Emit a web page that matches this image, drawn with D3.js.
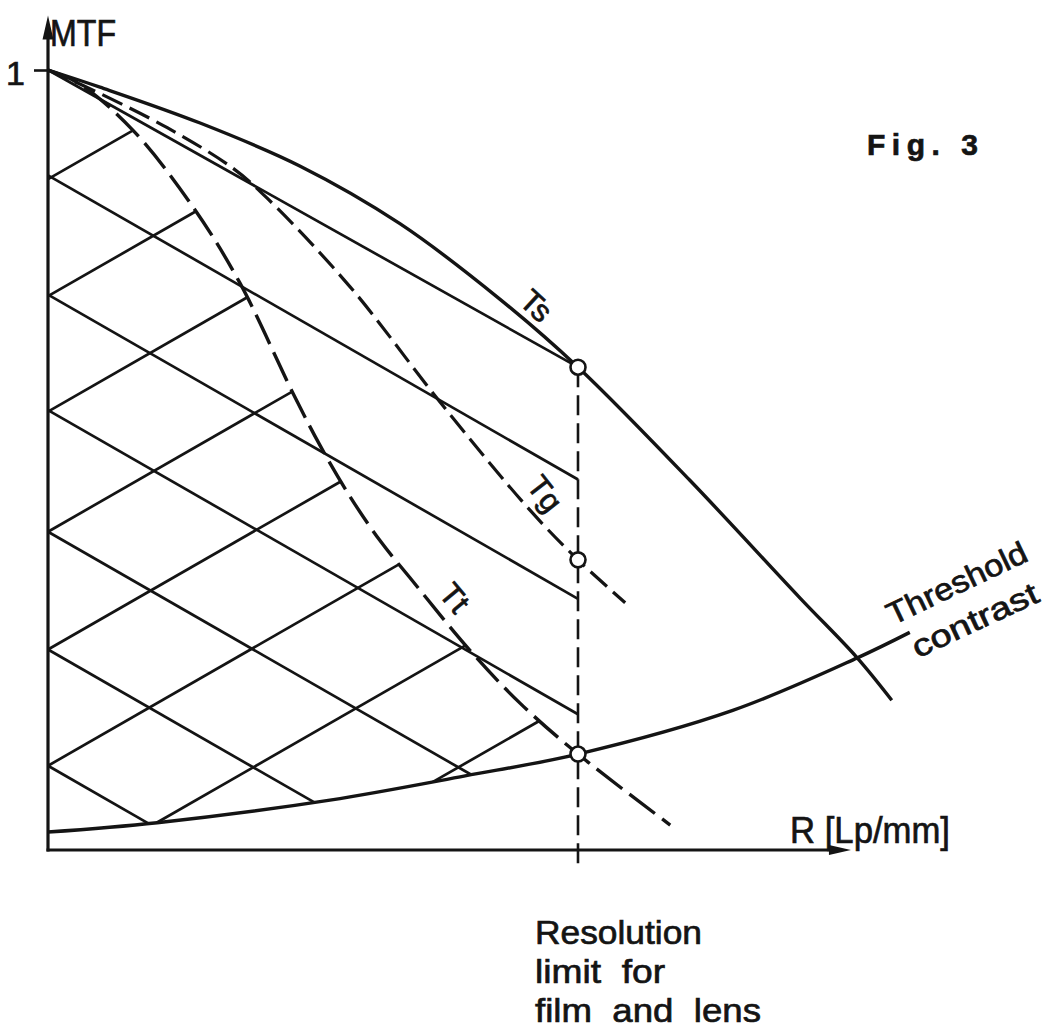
<!DOCTYPE html>
<html>
<head>
<meta charset="utf-8">
<script src="https://cdn.jsdelivr.net/npm/d3@7"></script>
<style>
  html, body { margin: 0; padding: 0; background: #fff; }
  svg { display: block; }
  text { font-family: "Liberation Sans Narrow", "Arial Narrow", "Liberation Sans", Arial, sans-serif;
         fill: #141414; stroke: #141414; stroke-width: 0.7px; white-space: pre; }
</style>
</head>
<body>
<svg id="chart" width="1057" height="1032"></svg>
<script>
// Spatial frequency R [Lp/mm] (resolution limit = 100) and MTF samples of each curve
const tsR = [0, 9.8, 28.7, 47.5, 66.4, 85.3, 100, 121.1, 141.9, 152.6, 159.2];
const tsM = [1, 0.978, 0.932, 0.877, 0.803, 0.706, 0.619, 0.474, 0.323, 0.247, 0.192];

const tgR = [0, 7.9, 22.5, 34.9, 41.3, 57.0, 74.0, 90.9, 100, 108.9];
const tgM = [1, 0.976, 0.926, 0.874, 0.836, 0.722, 0.574, 0.436, 0.372, 0.317];

const ttR = [0, 6, 16, 27.4, 36.2, 46.2, 51.3, 57, 62.6, 68.3, 79.6, 89.1, 100, 117.4];
const ttM = [1, 0.982, 0.923, 0.824, 0.727, 0.586, 0.519, 0.453, 0.397, 0.349, 0.256, 0.188, 0.123, 0.032];

// threshold contrast of the film
const thR = [0, 20.6, 53.2, 78.7, 100, 129.2, 152.6, 162.6];
const thM = [0.023, 0.035, 0.064, 0.095, 0.123, 0.179, 0.246, 0.279];

// resolution limit for film and lens
const limitR = 100;

// cross-hatching: MTF intercepts at R = 0 and common slope (MTF per Lp/mm)
const hatchDown = [0.865, 0.712, 0.564, 0.408, 0.257, 0.108];
const hatchUp = [0.86, 0.71, 0.562, 0.408, 0.257, 0.108, -0.045, -0.196];
const hatchSlope = 0.0039;

// axes
const axisMaxR = 151.5;
const axisMaxM = 1.07;
const yTicks = [1];
const yTickLabels = ["1"];

const svg = d3.select("#chart");
const x = d3.scaleLinear().domain([0, 100]).range([48, 578]);
const y = d3.scaleLinear().domain([0, 1]).range([850, 70]);

const zip = (a, b) => a.map((v, i) => [v, b[i]]);
const line = d3.line()
  .x(d => x(d[0]))
  .y(d => y(d[1]))
  .curve(d3.curveCatmullRom.alpha(0.5));

const ink = "#141414";

const hatchG = svg.append("g").attr("class", "hatch");
const curveG = svg.append("g").attr("class", "curves");

const ts = curveG.append("path").datum(zip(tsR, tsM))
  .attr("d", line).attr("fill", "none").attr("stroke", ink).attr("stroke-width", 3.4);

const tg = curveG.append("path").datum(zip(tgR, tgM))
  .attr("d", line).attr("fill", "none").attr("stroke", ink).attr("stroke-width", 3.2)
  .attr("stroke-dasharray", "22 8");

const tt = curveG.append("path").datum(zip(ttR, ttM))
  .attr("d", line).attr("fill", "none").attr("stroke", ink).attr("stroke-width", 3.4)
  .attr("stroke-dasharray", "32 9");

const th = curveG.append("path").datum(zip(thR, thM))
  .attr("d", line).attr("fill", "none").attr("stroke", ink).attr("stroke-width", 3.4);

// dense lookup of a drawn curve, MTF as a function of R
function sampler(path) {
  const node = path.node(), L = node.getTotalLength(), pts = [];
  for (let i = 0; i <= 800; i++) {
    const p = node.getPointAtLength(L * i / 800);
    pts.push([x.invert(p.x), y.invert(p.y)]);
  }
  pts.sort((a, b) => a[0] - b[0]);
  const bis = d3.bisector(d => d[0]).left;
  return R => {
    const i = bis(pts, R);
    if (i <= 0) return pts[0][1];
    if (i >= pts.length) return pts[pts.length - 1][1];
    const a = pts[i - 1], b = pts[i];
    const t = (R - a[0]) / ((b[0] - a[0]) || 1);
    return a[1] + t * (b[1] - a[1]);
  };
}
function root(f, lo, hi) {
  let flo = f(lo);
  for (let k = 0; k < 60; k++) {
    const m = (lo + hi) / 2, fm = f(m);
    if ((fm > 0) === (flo > 0)) { lo = m; flo = fm; } else { hi = m; }
  }
  return (lo + hi) / 2;
}

const thF = sampler(th);
const ttF = sampler(tt);

// descending hatch lines: from the MTF axis to the resolution limit or the threshold
const downSegs = hatchDown.map(d => {
  const f = R => (d - hatchSlope * R) - thF(R);
  const r1 = f(limitR) > 0 ? limitR : root(f, 0, limitR);
  return [[0, d], [r1, d - hatchSlope * r1]];
});
// ascending hatch lines: from the MTF axis or the threshold up to Tt
const upSegs = hatchUp.map(a => {
  const fTh = R => (a + hatchSlope * R) - thF(R);
  const r0 = fTh(0) >= 0 ? 0 : root(fTh, 0, limitR);
  const fTt = R => (a + hatchSlope * R) - ttF(R);
  const r1 = root(fTt, r0, limitR);
  return [[r0, a + hatchSlope * r0], [r1, a + hatchSlope * r1]];
});

const segLine = d3.line().x(d => x(d[0])).y(d => y(d[1]));
hatchG.selectAll("path.seg").data(downSegs.concat(upSegs)).join("path")
  .attr("class", "seg")
  .attr("d", segLine).attr("fill", "none").attr("stroke", ink).attr("stroke-width", 2.7);

// chord from MTF = 1 to Ts at the resolution limit
const tsAtLimit = tsM[tsR.indexOf(limitR)];
const tgAtLimit = tgM[tgR.indexOf(limitR)];
const thAtLimit = thM[thR.indexOf(limitR)];
hatchG.append("path").datum([[0, tsM[0]], [limitR, tsAtLimit]])
  .attr("d", segLine).attr("fill", "none").attr("stroke", ink).attr("stroke-width", 2.7);

// resolution limit marker
svg.append("line")
  .attr("x1", x(limitR)).attr("x2", x(limitR))
  .attr("y1", y(tsAtLimit)).attr("y2", y(0) + 14)
  .attr("stroke", ink).attr("stroke-width", 2.6).attr("stroke-dasharray", "20 8");

// axes with arrowheads
const ax = svg.append("g").attr("class", "axes");
const x0 = x(0), y0 = y(0), xEnd = x(axisMaxR), yEnd = y(axisMaxM);
ax.append("line").attr("x1", x0).attr("y1", y0 + 1.5).attr("x2", x0).attr("y2", yEnd + 10)
  .attr("stroke", ink).attr("stroke-width", 3.2);
ax.append("line").attr("x1", x0 - 1.5).attr("y1", y0).attr("x2", xEnd - 12).attr("y2", y0)
  .attr("stroke", ink).attr("stroke-width", 3);
ax.append("path")
  .attr("d", `M${x0},${yEnd} L${x0 - 5.5},${yEnd + 24} L${x0 + 5.5},${yEnd + 24} Z`)
  .attr("fill", ink);
ax.append("path")
  .attr("d", `M${xEnd},${y0} L${xEnd - 22},${y0 - 5} L${xEnd - 22},${y0 + 5} Z`)
  .attr("fill", ink);

const yAxis = d3.axisLeft(y).tickValues(yTicks)
  .tickFormat((d, i) => yTickLabels[i]).tickSize(14).tickPadding(9);
const yAxisG = ax.append("g").attr("transform", `translate(${x0},0)`).call(yAxis);
yAxisG.select(".domain").remove();
yAxisG.selectAll(".tick line").attr("stroke", ink).attr("stroke-width", 2.6);
yAxisG.selectAll(".tick text").attr("font-size", 34).attr("fill", ink)
  .attr("dy", "0.42em").attr("stroke", ink).attr("stroke-width", 1)
  .style("font-family", '"Liberation Sans Narrow", "Arial Narrow", "Liberation Sans", Arial, sans-serif');

ax.append("text").attr("x", x0 + 2).attr("y", 46).attr("font-size", 36)
  .attr("textLength", 66).attr("lengthAdjust", "spacingAndGlyphs").text("MTF");

ax.append("text").attr("x", 790).attr("y", 843).attr("font-size", 37)
  .attr("textLength", 160).attr("lengthAdjust", "spacingAndGlyphs").text("R [Lp/mm]");

// intersection points at the resolution limit
svg.selectAll("circle.pt").data([tsAtLimit, tgAtLimit, thAtLimit]).join("circle")
  .attr("class", "pt")
  .attr("cx", x(limitR)).attr("cy", d => y(d)).attr("r", 7.5)
  .attr("fill", "#fff").attr("stroke", ink).attr("stroke-width", 2.6);

// curve labels
function rotLabel(txt, px, py, angle, size, len) {
  const t = svg.append("text")
    .attr("transform", `translate(${px},${py}) rotate(${angle})`)
    .attr("font-size", size).text(txt);
  if (len) t.attr("textLength", len).attr("lengthAdjust", "spacingAndGlyphs");
  return t;
}
rotLabel("Ts", x(88.5) + 12, y(0.675) - 10, 43, 31).attr("text-anchor", "middle");
rotLabel("Tg", x(93.5) - 7, y(0.41) - 30, 52, 31).attr("text-anchor", "middle");
rotLabel("Tt", x(76.5) - 7, y(0.29) - 19, 50, 31).attr("text-anchor", "middle");

const thEndX = x(thR[thR.length - 1]), thEndY = y(thM[thM.length - 1]);
rotLabel("Threshold", thEndX - 17, thEndY - 7, -25.5, 31, 152);
rotLabel("contrast", thEndX + 8, thEndY + 26, -25, 31, 136);

// figure number
svg.append("text").attr("x", 867).attr("y", 155).attr("font-size", 30)
  .attr("font-weight", "bold").attr("textLength", 111).attr("lengthAdjust", "spacing")
  .style("font-family", '"Liberation Sans", Arial, sans-serif')
  .text("Fig. 3");

// caption under the resolution limit
const cap = svg.append("text").attr("font-size", 34);
[["Resolution", 944, 167], ["limit  for", 983, 130], ["film  and  lens", 1022, 226]]
  .forEach(([s, by, w]) => {
    cap.append("tspan").attr("x", 535).attr("y", by)
      .attr("textLength", w).attr("lengthAdjust", "spacingAndGlyphs").text(s);
  });
</script>
</body>
</html>
